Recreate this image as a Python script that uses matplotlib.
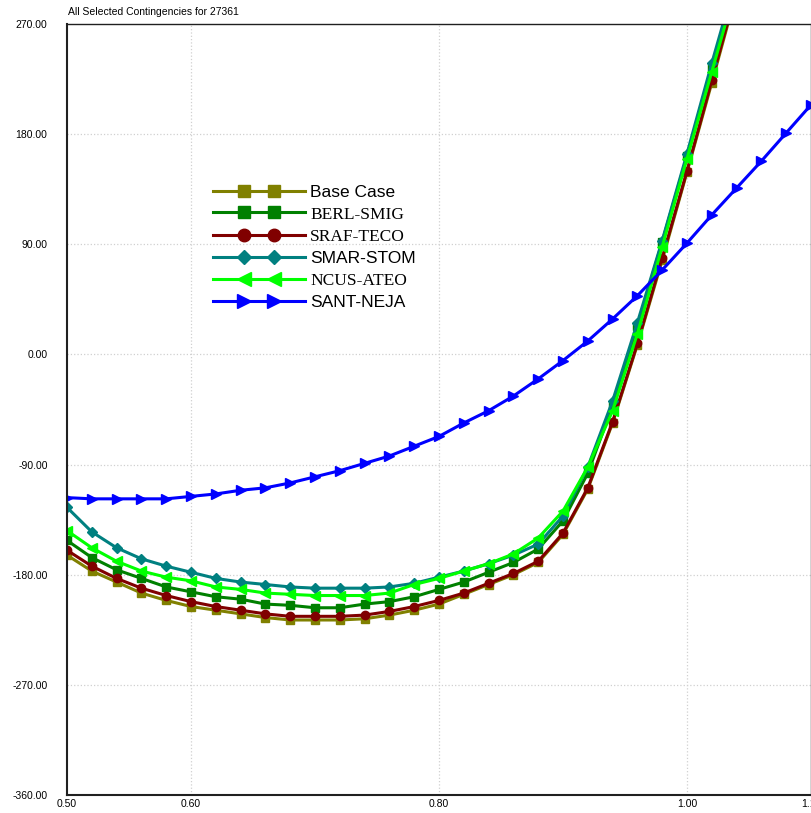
import matplotlib
matplotlib.use("Agg")
import matplotlib.pyplot as plt
from matplotlib.legend_handler import HandlerLine2D
import numpy as np

# x values (step 0.02 from 0.50 to 1.10)
x = [0.50, 0.52, 0.54, 0.56, 0.58, 0.60, 0.62, 0.64, 0.66, 0.68, 0.70,
     0.72, 0.74, 0.76, 0.78, 0.80, 0.82, 0.84, 0.86, 0.88, 0.90,
     0.92, 0.94, 0.96, 0.98, 1.00, 1.02, 1.04, 1.06, 1.08, 1.10]

base_case = [-164, -177, -186, -195, -201, -206, -209, -212, -215, -217, -217,
             -217, -216, -213, -209, -204, -196, -188, -180, -170, -147,
             -110, -56, 8, 77, 149, 222, 296]
berl_smig = [-152, -166, -176, -183, -190, -194, -198, -200, -204, -205, -207,
             -207, -204, -202, -198, -192, -186, -178, -170, -159, -136,
             -97, -42, 23, 92, 162, 235, 306]
sraf_teco = [-160, -173, -183, -191, -197, -202, -206, -209, -212, -214, -214,
             -214, -213, -210, -206, -201, -195, -187, -179, -169, -146,
             -109, -55, 9, 79, 150, 224, 298]
smar_stom = [-125, -145, -158, -167, -173, -178, -183, -186, -188, -190, -191,
             -191, -191, -190, -187, -182, -177, -171, -164, -155, -132,
             -92, -38, 26, 93, 164, 238, 309]
ncus_ateo = [-144, -158, -169, -177, -182, -185, -190, -192, -195, -196, -197,
             -197, -197, -195, -188, -183, -177, -171, -163, -150, -128,
             -92, -46, 17, 88, 160, 231, 302]
sant_neja = [-117, -118, -118, -118, -118, -116, -114, -111, -109, -105, -100,
             -95, -89, -83, -75, -67, -56, -46, -34, -20, -5,
             11, 29, 48, 69, 91, 114, 136, 158, 181, 204]

series = [
    ("Base Case", base_case, "#808000", "s", 5.5, ["Liberation Sans"]),
    ("BERL-SMIG", berl_smig, "#008000", "s", 5.5, ["Liberation Serif"]),
    ("SRAF-TECO", sraf_teco, "#800000", "o", 6.0, ["Liberation Serif"]),
    ("SMAR-STOM", smar_stom, "#008080", "D", 5.0, ["Liberation Sans"]),
    ("NCUS-ATEO", ncus_ateo, "#00FF00", "<", 6.5, ["Liberation Serif"]),
    ("SANT-NEJA", sant_neja, "#0000FF", ">", 6.5, ["Liberation Sans"]),
]

plt.rcParams['font.family'] = ['Liberation Sans', 'DejaVu Sans']

fig = plt.figure(figsize=(8.11, 8.13), dpi=100)
ax = fig.add_axes([67 / 811, 18 / 813, 744 / 811, 771 / 813])

for name, vals, col, mk, ms, fam in series:
    ax.plot(x[:len(vals)], vals, color=col, lw=2.2, marker=mk, ms=ms,
            mec=col, mfc=col, label=name)

ax.set_xlim(0.50, 1.10)
ax.set_ylim(-360, 270)
ax.set_xticks([0.50, 0.60, 0.80, 1.00, 1.10])
ax.set_xticklabels(["0.50", "0.60", "0.80", "1.00", "1.10"])
ax.set_yticks(np.arange(-360, 271, 90))
ax.set_yticklabels(["%.2f" % v for v in np.arange(-360, 271, 90)])
ax.tick_params(axis='both', length=0, labelsize=7.5, colors='black')
ax.tick_params(axis='y', pad=14)
ax.tick_params(axis='x', pad=3)

for v in [0.60, 0.80, 1.00]:
    ax.axvline(v, color='#d0d0d0', lw=0.9, ls=':', zorder=0)
for v in [-270, -180, -90, 0, 90, 180]:
    ax.axhline(v, color='#d0d0d0', lw=0.9, ls=':', zorder=0)

for s in ax.spines.values():
    s.set_color('#202020')
    s.set_linewidth(1.0)
ax.spines['left'].set_linewidth(1.5)
ax.spines['bottom'].set_linewidth(1.5)

fig.text(68 / 811, 1 - 12 / 813, "All Selected Contingencies for 27361",
         fontsize=7.5, ha='left', va='center')

hmap = {}
for line in ax.get_lines():
    hmap[line] = HandlerLine2D(numpoints=4, marker_pad=0)
leg = ax.legend(loc='upper left', bbox_to_anchor=(213 / 811, 1 - 185 / 813),
                bbox_transform=fig.transFigure, frameon=False, fontsize=12.5,
                handlelength=5.3, handletextpad=0.3, labelspacing=0.36,
                borderpad=0, borderaxespad=0, markerscale=1.5,
                handler_map=hmap)
for h in leg.legend_handles:
    h.set_markevery([1, 2])
for txt, (_, _, _, _, _, fam) in zip(leg.get_texts(), series):
    txt.set_family(fam)

fig.savefig("out.png", dpi=100)
